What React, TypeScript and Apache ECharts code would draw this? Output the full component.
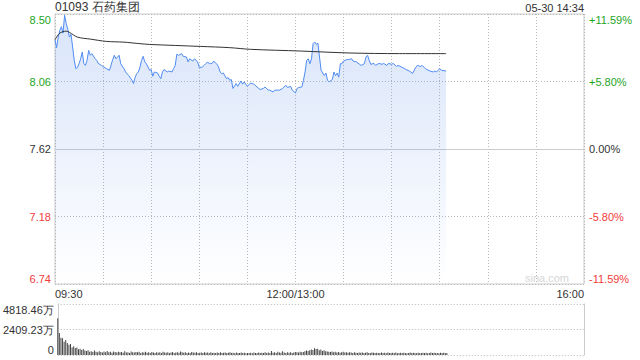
import React, { useEffect, useRef } from 'react';
import * as echarts from 'echarts';

const STOCK_TITLE = '01093 石药集团';
const TIME_STAMP = '05-30 14:34';
const WATERMARK = 'sina.com';
const PREV_CLOSE = 7.62;
const PCT_RANGE = 11.59;
const VOLUME_MAX = 4818.46;
const TOTAL_MINUTES = 330;
const TIME_LABELS: Record<number, string> = { 0: '09:30', 150: '12:00/13:00', 330: '16:00' };

// minutes since 09:30 (lunch break removed) and prices
const priceMinutes = [
  0, 1, 2, 3, 4, 5, 6, 7, 8, 9, 10, 11, 12, 13, 14, 15, 16, 17, 18, 19, 20, 21, 22, 23, 25, 26, 27, 29, 30, 32,
  34, 36, 37, 38, 40, 41, 43, 44, 46, 48, 49, 50, 51, 52, 53, 54, 55, 56, 57, 59, 60, 61, 62, 64, 65, 66, 67, 68,
  70, 71, 73, 74, 75, 76, 77, 79, 80, 82, 83, 84, 86, 87, 89, 90, 92, 93, 94, 95, 97, 98, 99, 101, 102, 103, 104,
  105, 107, 108, 109, 110, 111, 113, 114, 116, 117, 118, 120, 122, 124, 126, 128, 130, 131, 133, 134, 136, 137,
  140, 142, 144, 145, 147, 148, 150, 151, 152, 154, 155, 156, 157, 158, 159, 160, 161, 162, 163, 164, 165, 166,
  168, 169, 170, 171, 173, 174, 175, 176, 177, 178, 179, 180, 182, 183, 185, 186, 188, 190, 191, 193, 194, 195,
  196, 197, 199, 200, 202, 204, 205, 207, 208, 210, 211, 213, 214, 216, 218, 219, 221, 222, 223, 225, 226, 228,
  229, 231, 232, 234, 236, 237, 238, 240, 241, 244,
];
const prices = [
  8.335, 8.283, 8.35, 8.396, 8.42, 8.378, 8.495, 8.44, 8.404, 8.352, 8.37, 8.287, 8.2, 8.146, 8.153, 8.178, 8.21,
  8.254, 8.178, 8.167, 8.2, 8.265, 8.233, 8.244, 8.211, 8.2, 8.18, 8.167, 8.16, 8.146, 8.135, 8.205, 8.233, 8.21,
  8.233, 8.178, 8.146, 8.124, 8.1, 8.07, 8.048, 8.09, 8.113, 8.124, 8.155, 8.2, 8.226, 8.19, 8.178, 8.135, 8.14,
  8.096, 8.124, 8.117, 8.096, 8.08, 8.124, 8.14, 8.124, 8.13, 8.124, 8.146, 8.167, 8.24, 8.233, 8.244, 8.226,
  8.222, 8.19, 8.21, 8.195, 8.21, 8.19, 8.153, 8.157, 8.167, 8.178, 8.187, 8.178, 8.18, 8.195, 8.174, 8.157,
  8.124, 8.113, 8.117, 8.08, 8.087, 8.07, 8.074, 8.016, 8.048, 8.03, 8.065, 8.044, 8.059, 8.03, 8.052, 8.044,
  8.026, 8.009, 8.016, 8.026, 8.005, 8.005, 7.993, 8.005, 8.005, 8.016, 8.037, 8.022, 8.03, 8.005, 7.987, 8.016,
  8.022, 8.026, 8.07, 8.124, 8.2, 8.21, 8.178, 8.21, 8.309, 8.32, 8.304, 8.313, 8.222, 8.135, 8.1, 8.117, 8.07,
  8.059, 8.074, 8.124, 8.1, 8.117, 8.09, 8.178, 8.178, 8.195, 8.205, 8.205, 8.21, 8.195, 8.19, 8.174, 8.167,
  8.178, 8.222, 8.233, 8.2, 8.174, 8.18, 8.167, 8.18, 8.174, 8.18, 8.167, 8.18, 8.174, 8.18, 8.16, 8.167, 8.157,
  8.146, 8.14, 8.13, 8.124, 8.113, 8.153, 8.167, 8.16, 8.167, 8.146, 8.14, 8.13, 8.124, 8.13, 8.124, 8.146,
  8.135, 8.13,
];

const avgMinutes = [0, 3, 7, 9, 14, 22, 32, 43, 53, 59, 91, 109, 122, 153, 184, 215, 244];
const avgPrices = [
  8.335, 8.378, 8.391, 8.383, 8.352, 8.339, 8.324, 8.319, 8.309, 8.304, 8.291, 8.283, 8.272, 8.261, 8.248, 8.244,
  8.244,
];

// volume per minute (万), starting at 09:30
const volumes = [
  3470, 2080, 1640, 1580, 1260, 1420, 1130, 960, 1050, 720,
  820, 650, 700, 540, 600, 480, 560, 420, 380, 450,
  300, 360, 280, 420, 310, 260, 350, 290, 240, 330,
  270, 380, 250, 300, 220, 340, 280, 230, 310, 260,
  290, 210, 350, 240, 270, 200, 320, 260, 230, 280,
  250, 300, 190, 270, 230, 310, 220, 260, 200, 280,
  240, 190, 270, 220, 250, 180, 300, 230, 210, 260,
  200, 240, 280, 190, 230, 270, 210, 320, 250, 220,
  260, 200, 240, 190, 280, 230, 210, 250, 190, 220,
  240, 180, 260, 210, 230, 190, 250, 200, 220, 180,
  230, 200, 260, 190, 220, 240, 180, 210, 250, 190,
  220, 170, 240, 200, 190, 230, 180, 210, 170, 200,
  190, 220, 170, 240, 180, 200, 230, 190, 210, 180,
  260, 200, 230, 190, 380, 220, 260, 200, 300, 240,
  210, 350, 230, 190, 270, 220, 250, 200, 240, 280,
  260, 230, 300, 250, 280, 350, 420, 380, 460, 520,
  480, 640, 560, 600, 450, 520, 380, 440, 360, 320,
  300, 280, 340, 260, 300, 240, 280, 220, 260, 300,
  230, 250, 210, 270, 240, 200, 250, 220, 190, 230,
  210, 240, 190, 220, 250, 200, 180, 230, 210, 190,
  220, 180, 200, 240, 190, 210, 170, 230, 200, 180,
  210, 190, 230, 170, 200, 220, 180, 210, 190, 170,
  200, 230, 180, 210, 190, 170, 220, 200, 180, 210,
  190, 220, 170, 200, 230, 180, 210, 190, 200, 170,
  210, 190, 220, 180, 200,
];

const FONT = '"Liberation Sans", Arial, sans-serif';
const GREEN = '#1ea51e';
const RED = '#f23c3c';
const DARK = '#333333';
const BORDER_COLOR = '#cccccc';
const DOT_COLOR = '#b8b8b8';

const toPct = (p: number) => (p / PREV_CLOSE - 1) * 100;
const signColor = (v: number) => (v > 1e-6 ? GREEN : v < -1e-6 ? RED : DARK);
const fmtPct = (v: number) => {
  const a = (Math.round(Math.abs(v) * 100 + 1e-6) / 100).toFixed(2);
  return v > 1e-6 ? '+' + a + '%' : v < -1e-6 ? '-' + a + '%' : a + '%';
};

export default function App() {
  const ref = useRef<HTMLDivElement>(null);
  useEffect(() => {
    if (!ref.current) return;
    const chart = echarts.init(ref.current, null, { renderer: 'svg' });
    const pricePct = priceMinutes.map((m, i) => [m, toPct(prices[i])]);
    const avgPct = avgMinutes.map((m, i) => [m, toPct(avgPrices[i])]);
    const volData = volumes.map((v, i) => [i, v]);
    const dotted = { type: [1, 2] as any, color: DOT_COLOR, width: 1 };

    chart.setOption({
      animation: false,
      textStyle: { fontFamily: FONT },
      title: [
        { text: STOCK_TITLE, left: 55, top: 1, padding: 0, textStyle: { fontSize: 12, fontWeight: 'normal', color: DARK, fontFamily: FONT } },
        { text: TIME_STAMP, right: 56, top: 2, padding: 0, textStyle: { fontSize: 11, fontWeight: 'normal', color: DARK, fontFamily: FONT } },
      ],
      graphic: [
        { type: 'text', right: 71, top: 272, style: { text: WATERMARK, fill: '#d6d6d6', fontSize: 11, fontFamily: FONT } },
      ],
      grid: [
        { left: 55, right: 56, top: 14, height: 270, show: true, borderColor: BORDER_COLOR, borderWidth: 1 },
        { left: 55, right: 56, top: 304, height: 51 },
      ],
      xAxis: [
        {
          type: 'value', gridIndex: 0, min: 0, max: TOTAL_MINUTES, interval: 30,
          axisLine: { show: true, lineStyle: { color: BORDER_COLOR } },
          axisTick: { show: false },
          splitLine: { show: true, lineStyle: dotted },
          axisLabel: {
            margin: 4, fontSize: 11, color: DARK, fontFamily: FONT,
            alignMinLabel: 'left', alignMaxLabel: 'right',
            formatter: (v: number) => TIME_LABELS[Math.round(v)] ?? '',
          },
        },
        {
          type: 'value', gridIndex: 1, min: 0, max: TOTAL_MINUTES, interval: 30,
          axisLine: { show: false }, axisTick: { show: false }, axisLabel: { show: false }, splitLine: { show: false },
        },
      ],
      yAxis: [
        {
          type: 'value', gridIndex: 0, position: 'left', min: -PCT_RANGE, max: PCT_RANGE, interval: PCT_RANGE / 2,
          axisLine: { show: false }, axisTick: { show: false },
          splitLine: { show: true, lineStyle: dotted },
          axisLabel: {
            margin: 4, fontSize: 11, fontFamily: FONT,
            verticalAlignMaxLabel: 'top', verticalAlignMinLabel: 'bottom',
            color: (v: any) => signColor(Number(v)),
            formatter: (v: number) => (PREV_CLOSE * (1 + v / 100)).toFixed(2),
          },
        },
        {
          type: 'value', gridIndex: 0, position: 'right', min: -PCT_RANGE, max: PCT_RANGE, interval: PCT_RANGE / 2,
          axisLine: { show: false }, axisTick: { show: false }, splitLine: { show: false },
          axisLabel: {
            margin: 5, fontSize: 11, fontFamily: FONT,
            verticalAlignMaxLabel: 'top', verticalAlignMinLabel: 'bottom',
            color: (v: any) => signColor(Number(v)),
            formatter: (v: number) => fmtPct(v),
          },
        },
        {
          type: 'value', gridIndex: 1, position: 'left', min: 0, max: VOLUME_MAX, interval: VOLUME_MAX / 2,
          axisLine: { show: true, lineStyle: { color: BORDER_COLOR } }, axisTick: { show: false },
          splitLine: { show: true, lineStyle: dotted },
          axisLabel: {
            margin: 4, fontSize: 11, color: DARK, fontFamily: FONT,
            verticalAlignMaxLabel: 'top', verticalAlignMinLabel: 'bottom',
            formatter: (v: number) => (v === 0 ? '0' : v.toFixed(2) + '万'),
          },
        },
        {
          type: 'value', gridIndex: 1, position: 'right', min: 0, max: VOLUME_MAX, interval: VOLUME_MAX / 2,
          axisLine: { show: true, lineStyle: { color: BORDER_COLOR } }, axisTick: { show: false },
          splitLine: { show: false }, axisLabel: { show: false },
        },
      ],
      series: [
        {
          type: 'line', xAxisIndex: 0, yAxisIndex: 0, data: pricePct, symbol: 'none',
          lineStyle: { color: '#4f8bf2', width: 1 },
          areaStyle: {
            origin: 'start',
            color: new echarts.graphic.LinearGradient(0, 0, 0, 1, [
              { offset: 0, color: 'rgba(110,155,235,0.38)' },
              { offset: 1, color: 'rgba(110,155,235,0.0)' },
            ]),
          },
          silent: true,
        },
        {
          type: 'line', xAxisIndex: 0, yAxisIndex: 0, data: avgPct, symbol: 'none', smooth: 0.3,
          lineStyle: { color: '#333333', width: 1 }, silent: true,
        },
        {
          type: 'bar', xAxisIndex: 1, yAxisIndex: 2, data: volData, barWidth: 1,
          itemStyle: { color: '#444444' }, silent: true,
        },
      ],
    });
    return () => chart.dispose();
  }, []);
  return <div ref={ref} style={{ width: 640, height: 360, position: 'absolute', left: 0, top: 0 }} />;
}
